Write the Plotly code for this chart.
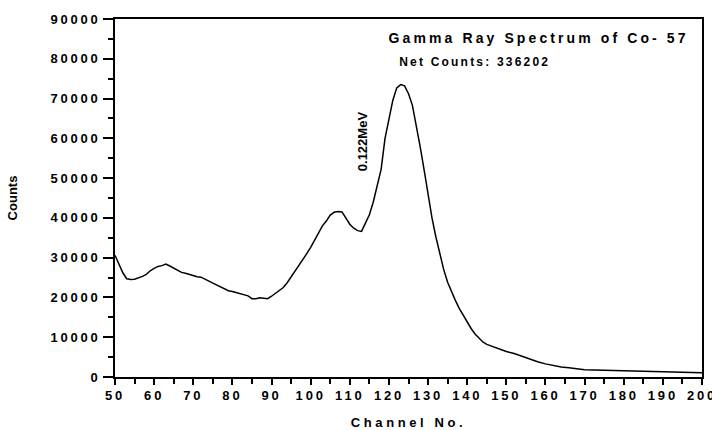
import plotly.graph_objects as go

# ---- data ----
channels = [50, 51, 52, 53, 54, 55, 56, 57, 58, 59, 60, 61, 62, 63, 64, 65, 66, 67, 68, 69,
            70, 71, 72, 73, 74, 75, 76, 77, 78, 79, 80, 81, 82, 83, 84, 85, 86, 87, 88, 89,
            90, 91, 92, 93, 94, 95, 96, 97, 98, 99, 100, 101, 102, 103, 104, 105, 106, 107, 108, 109,
            110, 111, 112, 113, 114, 115, 116, 117, 118, 119, 120, 121, 122, 123, 124, 125, 126, 127, 128, 129,
            130, 131, 132, 133, 134, 135, 136, 137, 138, 139, 140, 141, 142, 143, 144, 145, 146, 148,
            150, 152, 154, 156, 158, 160, 162, 164, 166, 168, 170, 175, 180, 185, 190, 195, 200]
counts = [30600, 28500, 26200, 24700, 24500, 24600, 24900, 25300, 25800, 26700, 27300, 27800, 28000, 28400, 27900, 27300, 26800, 26300, 26100, 25800,
          25500, 25200, 25100, 24700, 24100, 23600, 23100, 22500, 22000, 21700, 21500, 21200, 20900, 20700, 20400, 19700, 19700, 19900, 19800, 19700,
          20300, 21000, 21700, 22500, 23700, 25100, 26600, 28200, 29600, 31000, 32600, 34400, 36200, 38000, 39200, 40700, 41400, 41600, 41500, 40000,
          38400, 37400, 36800, 36600, 38500, 40800, 44000, 47800, 52200, 60000, 65300, 69600, 72700, 73500, 73200, 71200, 68300, 63500, 57800, 52000,
          45800, 40000, 35200, 30800, 27000, 23800, 21400, 19200, 17200, 15400, 13700, 12200, 10800, 9700, 8800, 8200, 7800, 7000,
          6400, 5900, 5200, 4500, 3850, 3300, 2850, 2500, 2300, 2100, 1850, 1700, 1550, 1400, 1300, 1180, 1080]

x_tick_vals = [50, 60, 70, 80, 90, 100, 110, 120, 130, 140, 150, 160, 170, 180, 190, 200]
y_tick_vals = [0, 10000, 20000, 30000, 40000, 50000, 60000, 70000, 80000, 90000]

x_title = "Channel No."
y_title = "Counts"
title_text = "Gamma Ray Spectrum of Co- 57"
net_text = "Net Counts: 336202"
peak_label = "0.122MeV"

FONT = "Liberation Sans, Arial, Helvetica, sans-serif"

fig = go.Figure()
fig.add_trace(go.Scatter(x=channels, y=counts, mode="lines",
                         line=dict(color="black", width=1.5), showlegend=False,
                         hoverinfo="skip"))

fig.update_layout(
    width=712, height=430,
    margin=dict(l=115, r=10, t=19, b=53),
    paper_bgcolor="white", plot_bgcolor="white",
    font=dict(family=FONT, color="black", size=13, weight=700),
    xaxis=dict(range=[50, 200], tickvals=x_tick_vals, ticks="outside", ticklen=6, tickwidth=1.5,
               tickcolor="black", showline=True, linecolor="black", linewidth=1.5, mirror=True,
               showgrid=False, zeroline=False, automargin=False, ticklabeloverflow="allow",
               minor=dict(dtick=5, tick0=50, ticks="outside", ticklen=5, tickwidth=1.5, tickcolor="black", showgrid=False),
               tickfont=dict(family=FONT, size=13, weight=700, color="black"),
               title=dict(text=x_title, font=dict(family=FONT, size=13, weight=700, color="black"), standoff=17)),
    yaxis=dict(range=[0, 90000], tickvals=y_tick_vals, tickformat="d", ticks="outside", ticklen=10, tickwidth=1.5,
               tickcolor="black", showline=True, linecolor="black", linewidth=1.5, mirror=True,
               showgrid=False, zeroline=False, automargin=False,
               minor=dict(dtick=5000, tick0=0, ticks="outside", ticklen=5, tickwidth=1.5, tickcolor="black", showgrid=False),
               tickfont=dict(family=FONT, size=13, weight=700, color="black"),
               title=dict(text=y_title, font=dict(family=FONT, size=13, weight=700, color="black"), standoff=44)),
    annotations=[
        dict(text=title_text, x=158.2, y=85340, xref="x", yref="y", showarrow=False,
             xanchor="center", yanchor="middle", font=dict(family=FONT, size=14, weight=700, color="black")),
        dict(text=net_text, x=142.0, y=79300, xref="x", yref="y", showarrow=False,
             xanchor="center", yanchor="middle", font=dict(family=FONT, size=12, weight=700, color="black")),
        dict(text=peak_label, x=113.1, y=59260, xref="x", yref="y", showarrow=False, textangle=-90,
             xanchor="center", yanchor="middle", font=dict(family=FONT, size=13, weight=700, color="black")),
    ],
)

post = """
var gd = document.getElementById('{plot_id}');
function sp(sel, v) { gd.querySelectorAll(sel).forEach(function(t){ t.style.letterSpacing = v; }); }
sp('.xtick text', '2.8px');
sp('.ytick text', '2.8px');
sp('.xtitle', '3.6px');
gd.querySelectorAll('.annotation-text').forEach(function(t){
  var s = t.textContent;
  if (s.indexOf('Gamma') === 0) t.style.letterSpacing = '3.1px';
  else if (s.indexOf('Net') === 0) t.style.letterSpacing = '2.2px';
});
"""

fig.write_html("out.html", post_script=post)
